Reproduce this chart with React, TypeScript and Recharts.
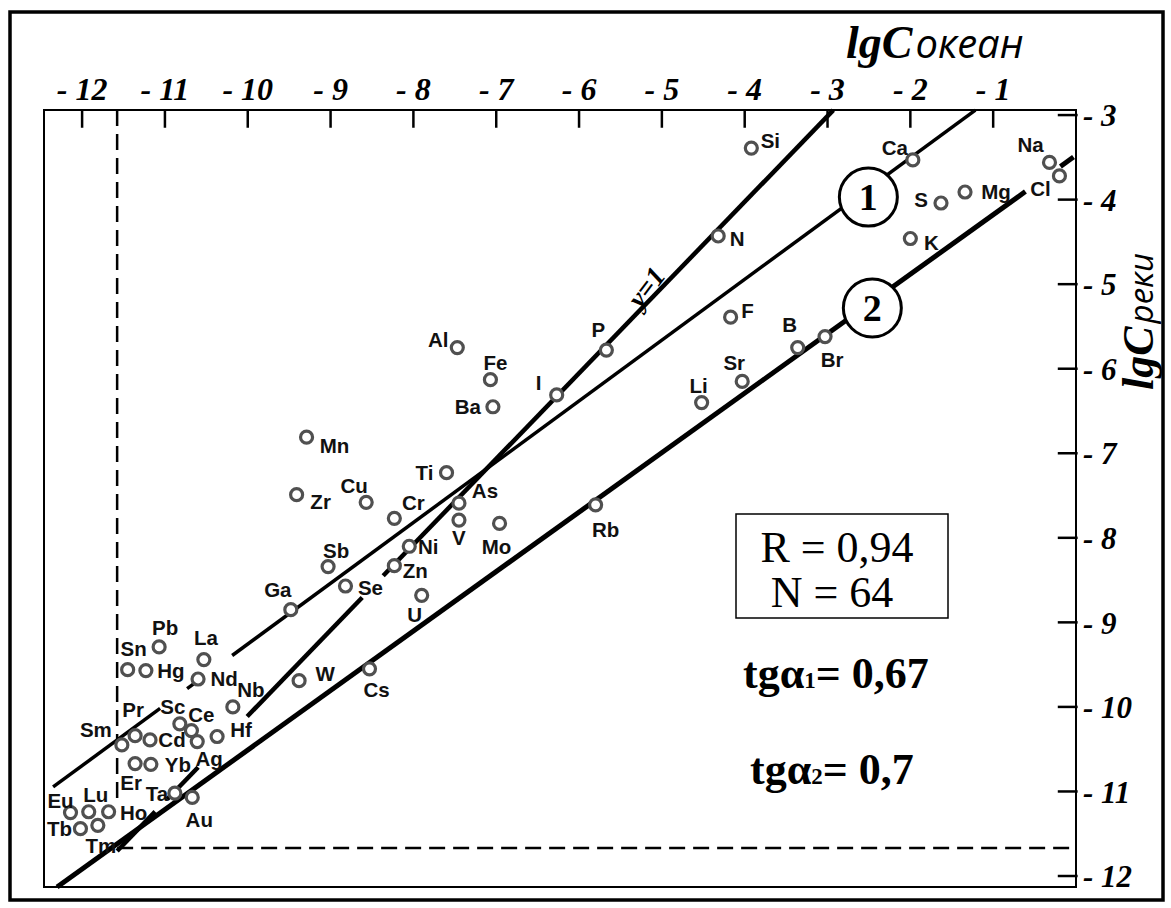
import React from 'react';
import { ScatterChart, Scatter, XAxis, YAxis, ReferenceLine, ReferenceDot, ReferenceArea } from 'recharts';

// ---- data ----
const elements = ['Si','Ca','Na','Cl','S','Mg','N','K','F','B','Br','Sr','Li','Al','Fe','Ba','I','P','Ti','As','V','Mo','Cr','Rb','Ni','Mn','Zr','Cu','Zn','Sb','Se','Ga','U','W','Cs','Nb','La','Pb','Nd','Sn','Hg','Sc','Ce','Ag','Hf','Cd','Pr','Sm','Er','Yb','Ta','Au','Eu','Lu','Ho','Tb','Tm'];
const oceanLg = [-3.92,-1.97,-0.32,-0.20,-1.63,-1.34,-4.32,-2.00,-4.17,-3.36,-3.03,-4.03,-4.52,-7.47,-7.07,-7.04,-6.27,-5.67,-7.60,-7.45,-7.45,-6.96,-8.23,-5.80,-8.05,-9.29,-9.41,-8.57,-8.23,-9.03,-8.82,-9.48,-7.90,-9.38,-8.53,-10.18,-10.53,-11.07,-10.60,-11.45,-11.23,-10.82,-10.68,-10.61,-10.37,-11.18,-11.36,-11.52,-11.36,-11.17,-10.88,-10.67,-12.14,-11.92,-11.68,-12.02,-11.81];
const riverLg = [-3.39,-3.53,-3.56,-3.72,-4.04,-3.91,-4.43,-4.46,-5.39,-5.75,-5.62,-6.15,-6.40,-5.75,-6.13,-6.45,-6.31,-5.78,-7.23,-7.59,-7.79,-7.83,-7.77,-7.61,-8.10,-6.81,-7.49,-7.58,-8.33,-8.34,-8.57,-8.85,-8.68,-9.69,-9.55,-10.00,-9.44,-9.29,-9.67,-9.56,-9.57,-10.20,-10.28,-10.41,-10.35,-10.39,-10.34,-10.45,-10.67,-10.68,-11.02,-11.07,-11.25,-11.24,-11.24,-11.44,-11.40];

const xTicks = [-12,-11,-10,-9,-8,-7,-6,-5,-4,-3,-2,-1];
const yTicks = [-3,-4,-5,-6,-7,-8,-9,-10,-11,-12];

// lines: y = a + b*x, drawn over visible x ranges
const lineUnit = { a: 0.028, b: 1.0134 };
const lineUnitRanges = [[-11.577,-11.118],[-10.973,-10.599],[-10.007,-8.618],[-8.365,-2.93]];
const line1 = { a: -2.067, b: 0.719 };
const line1Ranges = [[-12.35,-11.058],[-10.732,-10.575],[-10.188,-1.215]];
const line2 = { a: -3.475, b: 0.7035 };
const line2Ranges = [[-12.302,-0.611],[-0.188,-0.03]];
const detectionOcean = -11.577;
const detectionRiver = -11.668;
const badge1 = { x: -2.507, y: -3.97 };
const badge2 = { x: -2.459, y: -5.282 };

const xDomain = [-12.46, 0];
const yDomain = [-12.13, -2.94];

// label placement (style), px offsets from marker
const labelOffset: Record<string, [number, number]> = {
  Si:[19,-7], Ca:[-18,-12], Na:[-19,-18], Cl:[-19,13], S:[-20,-3], Mg:[31,0], N:[19,3], K:[21,4], F:[17,-7], B:[-8,-23], Br:[7,23], Sr:[-8,-19], Li:[-3,-17],
  Al:[-19,-8], Fe:[5,-17], Ba:[-25,0], I:[-18,-12], P:[-8,-20], Ti:[-22,0], As:[26,-13], V:[0,18], Mo:[-3,23], Cr:[19,-16], Rb:[10,25], Ni:[19,0],
  Mn:[28,8], Zr:[24,7], Cu:[-12,-17], Zn:[21,5], Sb:[8,-16], Se:[25,2], Ga:[-13,-20], U:[-7,19], W:[26,-7], Cs:[7,21], Nb:[18,-17], La:[2,-22],
  Pb:[6,-19], Nd:[26,0], Sn:[6,-21], Hg:[25,0], Sc:[-7,-17], Ce:[10,-16], Ag:[12,17], Hf:[24,-7], Cd:[22,0], Pr:[-2,-26], Sm:[-26,-15], Er:[-4,19],
  Yb:[27,0], Ta:[-18,0], Au:[7,22], Eu:[-10,-12], Lu:[7,-17], Ho:[25,1], Tb:[-21,0], Tm:[3,20],
};

const points = elements.map((name, i) => ({ name, x: oceanLg[i], y: riverLg[i] }));

const serif = 'Liberation Serif, Times New Roman, serif';
const sans = 'Liberation Sans, Arial, sans-serif';
const cyr = 'Open Sans, DejaVu Sans, sans-serif';

// inward tick-mark lengths in axis units (≈17-18 px)
const xTickLen = 0.21;
const yTickLen = 0.22;

const PointShape = (props: any) => {
  const { cx, cy, payload } = props;
  const off = labelOffset[payload.name] || [16, 0];
  return (
    <g>
      <circle cx={cx} cy={cy} r={6} fill="#fff" stroke="#505050" strokeWidth={3.2} />
      <text x={cx + off[0]} y={cy + off[1]} dy="0.36em" textAnchor="middle" fontFamily={sans} fontWeight="bold" fontSize={20.5} fill="#111">{payload.name}</text>
    </g>
  );
};

const XTick = (props: any) => {
  const { x, y, payload } = props;
  return (
    <text x={Number(x)} y={Number(y) - 10} textAnchor="middle" fontFamily={serif} fontStyle="italic" fontWeight="bold" fontSize={32} fill="#000">{'- ' + Math.abs(payload.value)}</text>
  );
};

const YTick = (props: any) => {
  const { x, y, payload } = props;
  return (
    <text x={Number(x) + 7} y={Number(y)} dy="0.36em" textAnchor="start" fontFamily={serif} fontStyle="italic" fontWeight="bold" fontSize={31} fill="#000">{'- ' + Math.abs(payload.value)}</text>
  );
};

const badge = (n: string) => (props: any) => (
  <g>
    <circle cx={props.cx} cy={props.cy} r={29} fill="#fff" stroke="#000" strokeWidth={3} />
    <text x={props.cx} y={props.cy} dy="0.35em" textAnchor="middle" fontFamily={serif} fontWeight="bold" fontSize={38} fill="#000">{n}</text>
  </g>
);

const seg = (l: { a: number; b: number }, r: number[]) => [
  { x: r[0], y: l.a + l.b * r[0] },
  { x: r[1], y: l.a + l.b * r[1] },
];

export default function App() {
  return (
    <div style={{ position: 'absolute', left: 0, top: 0, width: 1171, height: 908, background: '#fff' }}>
      <ScatterChart width={1171} height={908} margin={{ top: 70, right: 35, bottom: 21, left: 44 }}>
        <XAxis type="number" dataKey="x" orientation="top" domain={xDomain} ticks={xTicks} interval={0} height={40}
          tick={<XTick />} tickLine={false} tickSize={0} tickMargin={0} axisLine={false} allowDataOverflow />
        <YAxis type="number" dataKey="y" orientation="right" domain={yDomain} ticks={yTicks} interval={0} width={60}
          tick={<YTick />} tickLine={false} tickSize={0} tickMargin={0} axisLine={false} allowDataOverflow />
        <ReferenceArea x1={xDomain[0]} x2={xDomain[1]} y1={yDomain[0]} y2={yDomain[1]} fill="none" stroke="#000" strokeWidth={2} fillOpacity={0} ifOverflow="visible" />
        <ReferenceLine segment={[{ x: detectionOcean, y: yDomain[1] }, { x: detectionOcean, y: -11.15 }]} stroke="#000" strokeWidth={2.5} strokeDasharray="16 8" ifOverflow="visible" />
        <ReferenceLine segment={[{ x: detectionOcean, y: detectionRiver }, { x: xDomain[1], y: detectionRiver }]} stroke="#000" strokeWidth={2.5} strokeDasharray="16 8" ifOverflow="visible" />
        {xTicks.map((t, i) => (
          <ReferenceLine key={'xt' + i} segment={[{ x: t, y: yDomain[1] }, { x: t, y: yDomain[1] - xTickLen }]} stroke="#000" strokeWidth={2.5} ifOverflow="visible" />
        ))}
        {yTicks.map((t, i) => (
          <ReferenceLine key={'yt' + i} segment={[{ x: xDomain[1] - yTickLen, y: t }, { x: xDomain[1] + 0.02, y: t }]} stroke="#000" strokeWidth={2.5} ifOverflow="visible" />
        ))}
        {lineUnitRanges.map((r, i) => (
          <ReferenceLine key={'u' + i} segment={seg(lineUnit, r)} stroke="#000" strokeWidth={4.5} ifOverflow="visible" />
        ))}
        {line1Ranges.map((r, i) => (
          <ReferenceLine key={'a' + i} segment={seg(line1, r)} stroke="#000" strokeWidth={3.5} ifOverflow="visible" />
        ))}
        {line2Ranges.map((r, i) => (
          <ReferenceLine key={'b' + i} segment={seg(line2, r)} stroke="#000" strokeWidth={5} ifOverflow="visible" />
        ))}
        <ReferenceDot x={badge1.x} y={badge1.y} r={29} shape={badge('1')} ifOverflow="visible" />
        <ReferenceDot x={badge2.x} y={badge2.y} r={29} shape={badge('2')} ifOverflow="visible" />
        <Scatter data={points} shape={<PointShape />} isAnimationActive={false} />
      </ScatterChart>
      <svg width={1171} height={908} style={{ position: 'absolute', left: 0, top: 0, pointerEvents: 'none' }}>
        <rect x={10} y={12} width={1153} height={888} fill="none" stroke="#000" strokeWidth={3.5} />
        <text x={846} y={58} fill="#000">
          <tspan fontFamily={serif} fontStyle="italic" fontWeight="bold" fontSize={46}>lgC</tspan>
          <tspan fontFamily={cyr} fontStyle="italic" fontSize={40} dx={3}>океан</tspan>
        </text>
        <text transform="translate(1153,390) rotate(-90)" fill="#000">
          <tspan fontFamily={serif} fontStyle="italic" fontWeight="bold" fontSize={44}>lgC</tspan>
          <tspan fontFamily={cyr} fontStyle="italic" fontSize={33} dx={3}>реки</tspan>
        </text>
        <text transform="translate(646,287) rotate(-53)" textAnchor="middle" dy="0.35em" fontFamily={serif} fontStyle="italic" fontWeight="bold" fontSize={28} fill="#000">y=1</text>
        <rect x={736} y={514} width={212} height={104} fill="#fff" stroke="#000" strokeWidth={1.5} />
        <text x={837} y={562} textAnchor="middle" fontFamily={serif} fontSize={44} fill="#000">R = 0,94</text>
        <text x={832} y={607} textAnchor="middle" fontFamily={serif} fontSize={44} fill="#000">N = 64</text>
        <text x={743} y={688} fontFamily={serif} fontWeight="bold" fontSize={44} fill="#000">tgα<tspan fontSize={23}>1</tspan>= 0,67</text>
        <text x={750} y={784} fontFamily={serif} fontWeight="bold" fontSize={44} fill="#000">tgα<tspan fontSize={23}>2</tspan>= 0,7</text>
      </svg>
    </div>
  );
}
